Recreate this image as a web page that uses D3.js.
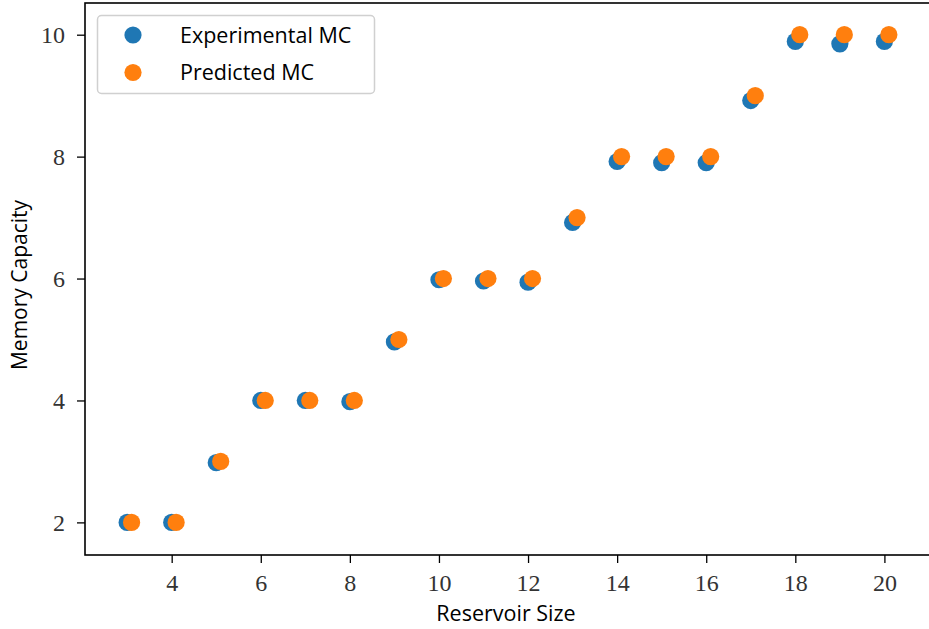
<!DOCTYPE html>
<html>
<head>
<meta charset="utf-8">
<script src="https://cdn.jsdelivr.net/npm/d3@7"></script>
<style>
  body { margin: 0; background: #fff; }
  svg { display: block; }
  .tick text { font-family: "Liberation Serif", serif; }
</style>
</head>
<body>
<svg id="chart" width="929" height="629"></svg>
<script>
// reservoir sizes, measured and predicted memory capacity
var sizes = [3, 4, 5, 6, 7, 8, 9, 10, 11, 12, 13, 14, 15, 16, 17, 18, 19, 20];
var experimental = [2.0, 2.0, 2.98, 4.0, 4.0, 3.98, 4.96, 5.98, 5.96, 5.94, 6.92, 7.92, 7.9, 7.9, 8.92, 9.89, 9.85, 9.89];
var predicted = [2, 2, 3, 4, 4, 4, 5, 6, 6, 6, 7, 8, 8, 8, 9, 10, 10, 10];
var predOffset = 0.1;
var xTicks = [4, 6, 8, 10, 12, 14, 16, 18, 20];
var yTicks = [2, 4, 6, 8, 10];
var seriesNames = ['Experimental MC', 'Predicted MC'];
var colors = ['#1f77b4', '#ff7f0e'];

const svg = d3.select('#chart');
const plotLeft = 85, plotTop = 3, plotRight = 931, plotBottom = 555;

const x = d3.scaleLinear().domain([2.054, 21.046]).range([plotLeft, plotRight]);
const y = d3.scaleLinear().domain([1.465, 10.52]).range([plotBottom, plotTop]);

// points
const pts = svg.append('g');
pts.selectAll('circle.exp')
  .data(sizes)
  .enter().append('circle')
  .attr('cx', (d) => x(d))
  .attr('cy', (d, i) => y(experimental[i]))
  .attr('r', 8.6)
  .attr('fill', colors[0]);
pts.selectAll('circle.pred')
  .data(sizes)
  .enter().append('circle')
  .attr('cx', (d) => x(d + predOffset))
  .attr('cy', (d, i) => y(predicted[i]))
  .attr('r', 8.6)
  .attr('fill', colors[1]);

// axes
const xAxis = svg.append('g')
  .attr('transform', `translate(0,${plotBottom})`)
  .call(d3.axisBottom(x).tickValues(xTicks).tickSize(8).tickPadding(11).tickFormat(d3.format('d')));
const yAxis = svg.append('g')
  .attr('transform', `translate(${plotLeft},0)`)
  .call(d3.axisLeft(y).tickValues(yTicks).tickSize(8).tickPadding(12).tickFormat(d3.format('d')));

[xAxis, yAxis].forEach((a) => {
  a.select('.domain').remove();
  a.selectAll('.tick line').attr('stroke', '#000').attr('stroke-width', 1.3);
  a.selectAll('.tick text').attr('fill', '#333').style('font-size', '24px');
});

// spines (right one falls just outside the picture)
svg.append('rect')
  .attr('x', plotLeft).attr('y', plotTop)
  .attr('width', plotRight - plotLeft).attr('height', plotBottom - plotTop)
  .attr('fill', 'none').attr('stroke', '#000').attr('stroke-width', 1.6);

// axis labels
svg.append('text')
  .attr('x', 506)
  .attr('y', 621)
  .attr('text-anchor', 'middle')
  .style('font-family', '"Open Sans", sans-serif')
  .style('font-size', '21.5px')
  .text('Reservoir Size');
svg.append('text')
  .attr('transform', `translate(27,${(plotTop + plotBottom) / 2 + 6}) rotate(-90)`)
  .attr('text-anchor', 'middle')
  .style('font-family', '"Open Sans", sans-serif')
  .style('font-size', '21px')
  .text('Memory Capacity');

// legend
const legend = svg.append('g');
legend.append('rect')
  .attr('x', 97.5).attr('y', 15.5)
  .attr('width', 277).attr('height', 78)
  .attr('rx', 4)
  .attr('fill', 'rgba(255,255,255,0.8)')
  .attr('stroke', '#d0d0d0').attr('stroke-width', 1.5);
seriesNames.forEach((name, i) => {
  legend.append('circle')
    .attr('cx', 133).attr('cy', 35 + i * 37.5)
    .attr('r', 8.6)
    .attr('fill', colors[i]);
  legend.append('text')
    .attr('x', 180).attr('y', 35 + i * 37.5 + 7.5)
    .style('font-family', '"Open Sans", sans-serif')
    .style('font-size', '21.5px')
    .text(name);
});
</script>
</body>
</html>
